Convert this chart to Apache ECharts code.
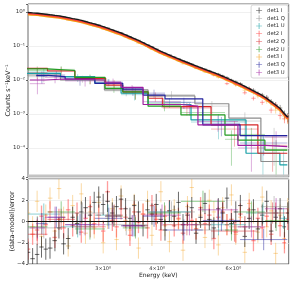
<!DOCTYPE html>
<html><head><meta charset="utf-8">
<script src="https://cdn.jsdelivr.net/npm/echarts@6/dist/echarts.min.js"></script>
<style>html,body{margin:0;padding:0;background:#fff}#c{width:292px;height:284px}</style>
</head><body><div id="c"></div>
<script>
// ---------------- data ----------------
const energies = [2.01,2.06,2.11,2.16,2.21,2.26,2.32,2.37,2.43,2.49,2.55,2.61,2.67,2.73,2.80,2.86,2.93,3.00,3.07,3.15,3.22,3.30,3.38,3.46,3.54,3.62,3.71,3.80,3.89,3.98,4.08,4.17,4.27,4.38,4.48,4.59,4.70,4.81,4.92,5.04,5.16,5.28,5.41,5.54,5.67,5.80,5.94,6.08,6.23,6.38,6.53,6.68,6.84,7.00,7.17,7.34,7.52,7.70,7.88,8.02];

const det1IModel = [0.966,0.940,0.918,0.891,0.859,0.828,0.794,0.769,0.724,0.681,0.641,0.605,0.566,0.525,0.480,0.446,0.409,0.371,0.335,0.299,0.270,0.241,0.212,0.187,0.165,0.146,0.126,0.108,0.0935,0.0807,0.0692,0.0617,0.0542,0.0472,0.0418,0.0368,0.0327,0.0290,0.0259,0.0230,0.0205,0.0184,0.0164,0.0146,0.0129,0.0113,0.00989,0.00865,0.00752,0.00646,0.00557,0.00482,0.00411,0.00350,0.00289,0.00231,0.00183,0.00145,0.00102,0.00080];
const det1I = [0.95,0.93,0.92,0.88,0.86,0.83,0.80,0.77,0.73,0.69,0.64,0.61,0.57,0.53,0.485,0.452,0.415,0.375,0.338,0.302,0.272,0.244,0.214,0.188,0.167,0.147,0.126,0.109,0.0945,0.0815,0.0695,0.0615,0.0548,0.0475,0.0424,0.0367,0.0330,0.0294,0.0256,0.0231,0.0209,0.0185,0.0162,0.0149,0.0131,0.0118,0.0099,0.0088,0.0078,0.0063,0.0056,0.0050,0.0040,0.0036,0.0031,0.0023,0.00185,0.00150,0.00100,0.00082];
const det2IModel = [0.90,0.875,0.855,0.83,0.80,0.77,0.74,0.715,0.675,0.635,0.597,0.563,0.527,0.489,0.447,0.415,0.381,0.345,0.312,0.278,0.251,0.224,0.197,0.174,0.153,0.136,0.117,0.100,0.087,0.075,0.0644,0.0574,0.0504,0.0439,0.0389,0.0342,0.0304,0.0270,0.0241,0.0214,0.0191,0.0171,0.0153,0.0136,0.0120,0.0105,0.0092,0.0080,0.0070,0.0060,0.0052,0.0045,0.0038,0.00326,0.00269,0.00215,0.00170,0.00135,0.00095,0.00074];
const det2I = [0.88,0.87,0.85,0.84,0.79,0.78,0.72,0.72,0.67,0.65,0.59,0.57,0.52,0.49,0.46,0.41,0.385,0.34,0.33,0.279,0.248,0.229,0.198,0.168,0.156,0.135,0.119,0.098,0.090,0.076,0.062,0.058,0.052,0.043,0.039,0.033,0.031,0.027,0.023,0.022,0.0188,0.0175,0.0138,0.0139,0.0124,0.0078,0.0093,0.0074,0.0073,0.0042,0.0056,0.0029,0.0039,0.0022,0.0028,0.0013,0.0018,0.0009,0.00072,0.00075];
const det3IModel = [0.84,0.82,0.80,0.775,0.745,0.72,0.69,0.668,0.63,0.592,0.557,0.526,0.492,0.457,0.418,0.388,0.356,0.323,0.291,0.260,0.235,0.210,0.184,0.163,0.144,0.127,0.110,0.094,0.0813,0.0702,0.0602,0.0537,0.0472,0.0411,0.0364,0.0320,0.0284,0.0252,0.0225,0.0200,0.0178,0.0160,0.0143,0.0127,0.0112,0.0098,0.0086,0.0075,0.0065,0.0056,0.00485,0.00419,0.00358,0.00305,0.00251,0.00201,0.00159,0.00126,0.00089,0.00070];
const det3I = [0.85,0.81,0.83,0.76,0.75,0.74,0.68,0.70,0.63,0.57,0.57,0.525,0.51,0.45,0.424,0.384,0.364,0.313,0.293,0.264,0.229,0.217,0.184,0.160,0.148,0.121,0.111,0.098,0.079,0.071,0.064,0.053,0.045,0.042,0.0365,0.030,0.0290,0.0273,0.0221,0.0202,0.0172,0.0168,0.0147,0.0119,0.0116,0.0097,0.0092,0.0072,0.0066,0.0050,0.0051,0.0043,0.0034,0.0033,0.0024,0.0021,0.0013,0.00131,0.00086,0.00072];
const iErrFrac = [0.010,0.010,0.011,0.011,0.012,0.012,0.013,0.013,0.014,0.014,0.015,0.015,0.016,0.017,0.017,0.018,0.019,0.020,0.021,0.022,0.023,0.024,0.025,0.027,0.028,0.030,0.032,0.034,0.036,0.038,0.040,0.042,0.045,0.048,0.050,0.053,0.056,0.060,0.063,0.067,0.071,0.075,0.080,0.085,0.090,0.095,0.10,0.11,0.115,0.12,0.13,0.14,0.15,0.16,0.17,0.19,0.21,0.23,0.26,0.30];

const det1IResid = [-2.9,-3.5,-3.1,-2.4,-2.6,-2.5,-1.8,-0.6,-2.1,-1.6,0.4,-0.2,0.9,1.3,0.6,1.8,2.3,1.6,1.9,0.8,1.4,2.1,1.2,0.3,1.5,0.9,-0.4,1.1,0.7,1.6,0.2,-0.8,1.0,0.5,1.8,-0.3,0.6,1.3,-1.1,0.4,1.7,0.2,-0.6,1.2,0.8,2.2,-0.2,0.9,1.5,-1.4,0.3,1.1,-0.7,0.6,1.9,-0.9,0.4,1.2,-0.5,0.8];
const det2IResid = [-2.6,-1.2,-0.8,0.5,-0.3,0.9,-1.5,0.2,-0.6,1.1,-0.4,0.8,-1.0,0.3,1.4,-0.2,0.6,-0.9,2.8,0.1,-0.5,1.2,0.4,-1.3,0.9,-0.1,0.7,-0.6,1.5,0.2,-0.8,0.5,1.0,-0.4,0.3,-1.1,0.8,0.1,-0.7,1.3,-0.2,0.6,-1.6,0.4,0.9,-0.3,0.2,-1.0,0.7,-0.5,1.1,-1.8,0.3,-0.6,0.5,-1.2,0.8,-0.4,-2.0,0.2];
const det3IResid = [0.8,-0.5,1.9,-1.4,0.6,2.2,-0.9,3.1,0.4,-2.3,1.5,-0.2,2.6,-1.1,0.9,-0.6,1.8,-2.0,0.3,1.2,-1.7,2.4,0.1,-0.8,1.6,-2.5,0.7,1.9,-1.3,0.5,2.8,-0.4,-1.9,1.1,0.2,-2.7,1.4,3.2,-0.7,0.6,-1.5,2.0,0.9,-2.2,1.3,-0.3,2.5,-1.2,0.4,-2.9,1.7,0.8,-1.0,2.3,-0.5,1.0,-3.0,0.6,-1.6,1.2];

const det1QEdges = [2.0,2.39,3.02,3.81,4.89,5.86,6.95,8.0];
const det1QModel = [0.0140,0.0100,0.0051,0.0034,0.0020,0.00076,0.00004];
const det1QData  = [0.0125,0.0108,0.0048,0.0037,0.0017,0.00062,0.00021];
const det1QErr   = [0.004,0.0025,0.0015,0.0010,0.0007,0.0005,0.00018];
const det1QResid = [-0.6,0.8,-0.3,0.9,-0.8,-0.5,1.4];

const det1UEdges = [2.0,2.39,2.87,3.30,3.81,4.79,6.42,7.69,8.0];
const det1UModel = [0.0157,0.0125,0.0080,0.0041,0.0019,0.00067,0.00007,0.000032];
const det1UData  = [0.0172,0.0118,0.0085,0.0037,0.0022,0.00058,0.00012,0.00004];
const det1UErr   = [0.005,0.003,0.002,0.0012,0.0007,0.0004,0.00012,0.00004];
const det1UResid = [0.7,-0.5,0.6,-0.4,0.9,-0.3,0.8,0.3];

const det2QEdges = [2.0,2.23,2.58,3.04,3.33,3.81,4.12,5.33,6.84,8.0];
const det2QModel = [0.0221,0.0184,0.0112,0.0071,0.0045,0.0029,0.00164,0.00048,0.00007];
const det2QData  = [0.0165,0.0190,0.0105,0.0078,0.0041,0.0033,0.0015,0.00036,0.00012];
const det2QErr   = [0.006,0.005,0.003,0.002,0.0014,0.001,0.0006,0.00025,0.0001];
const det2QResid = [-1.2,0.2,-0.5,0.6,-0.4,0.7,-0.3,-0.9,0.8];

const det2UEdges = [2.0,2.23,2.58,3.03,3.33,3.81,4.54,5.74,6.15,7.10,8.0];
const det2UModel = [0.0211,0.0190,0.0120,0.0057,0.0045,0.0017,0.00094,0.00024,0.00017,0.000087];
const det2UData  = [0.019,0.0205,0.0110,0.0062,0.0041,0.0020,0.0011,0.00018,0.00025,0.00009];
const det2UErr   = [0.006,0.005,0.0035,0.002,0.0015,0.0008,0.0005,0.00015,0.00014,0.00008];
const det2UResid = [-0.5,0.9,-0.7,0.5,-0.6,0.8,1.9,-0.8,0.9,0.1];

const det3QEdges = [2.10,2.23,2.45,2.87,3.33,3.71,4.17,5.10,6.22,8.0];
const det3QModel = [0.0136,0.0125,0.0107,0.0080,0.0054,0.0036,0.0028,0.00048,0.00023];
const det3QData  = [0.0128,0.0140,0.0098,0.0086,0.0049,0.0041,0.0022,0.00052,0.00014];
const det3QErr   = [0.005,0.004,0.003,0.002,0.0015,0.0011,0.0008,0.0003,0.00008];
const det3QResid = [-0.2,0.4,-0.3,0.3,-0.4,0.5,-0.8,0.1,-1.7];

const det3UEdges = [2.03,2.20,2.45,3.03,3.30,3.71,4.54,4.97,6.15,7.10,8.0];
const det3UModel = [0.0100,0.0107,0.0100,0.0082,0.0061,0.0019,0.0017,0.00048,0.00012,0.00011];
const det3UData  = [0.0078,0.0120,0.0094,0.0090,0.0056,0.0023,0.0015,0.00060,0.00010,0.00021];
const det3UErr   = [0.004,0.004,0.003,0.002,0.0015,0.0008,0.0006,0.0003,0.00008,0.0001];
const det3UResid = [-0.6,0.4,-0.3,0.5,-0.4,0.6,-0.3,1.1,-0.5,1.2];

const xTicks = [3,4,5,6,7];
const xTickLabels = [3,4,6];

// ---------------- styles ----------------
const COL = {
  'det1 I':'#1a1a1a','det1 Q':'#8c8c8c','det1 U':'#17a0a6',
  'det2 I':'#ff3b3b','det2 Q':'#d62728','det2 U':'#229a22',
  'det3 I':'#f39c12','det3 Q':'#23239e','det3 U':'#a01ea0'
};
const FONT = 'DejaVu Sans';
const XMIN = 2.01, XMAX = 8.06;

// ---------------- builders ----------------
const iLo = energies.map((e,i)=> i===0 ? e*Math.sqrt(e/energies[1]) : Math.sqrt(e*energies[i-1]));
const iHi = energies.map((e,i)=> i===energies.length-1 ? e*Math.sqrt(e/energies[i-1]) : Math.sqrt(e*energies[i+1]));
function iItems(vals){ return vals.map((v,i)=>[energies[i], v, iLo[i], iHi[i], v*(1-iErrFrac[i]), v*(1+iErrFrac[i])]); }
function iResItems(r){ return r.map((v,i)=>[energies[i], v, iLo[i], iHi[i], v-1, v+1]); }
function quItems(edges, data, err){ return data.map((v,i)=>{const lo=edges[i],hi=edges[i+1];return [Math.sqrt(lo*hi), v, lo, hi, Math.max(v-err[i],1e-6), v+err[i]];}); }
function quResItems(edges, r){ return r.map((v,i)=>{const lo=edges[i],hi=edges[i+1];return [Math.sqrt(lo*hi), v, lo, hi, v-1, v+1];}); }
function stepData(edges, model){ const d = model.map((m,i)=>[edges[i], m]); d.push([edges[edges.length-1], model[model.length-1]]); return d; }

function errSeries(name, items, grid, op, lw, z){
  const color = COL[name];
  return {
    type:'custom', name, xAxisIndex:grid, yAxisIndex:grid, clip:true, z:z||2,
    itemStyle:{color}, data:items, silent:true,
    renderItem:(params, api)=>{
      const x=api.value(0), y=api.value(1);
      const c = api.coord([x,y]);
      const xl = api.coord([api.value(2), y])[0], xr = api.coord([api.value(3), y])[0];
      const yl = api.coord([x, api.value(4)])[1], yh = api.coord([x, api.value(5)])[1];
      const st = {stroke:color, lineWidth:lw, opacity:op};
      return {type:'group', children:[
        {type:'line', shape:{x1:xl,y1:c[1],x2:xr,y2:c[1]}, style:st},
        {type:'line', shape:{x1:c[0],y1:yl,x2:c[0],y2:yh}, style:st}
      ]};
    }
  };
}
function stepSeries(name, edges, model, lw, z){
  return {type:'line', name:name+' model', xAxisIndex:0, yAxisIndex:0, step:'end', symbol:'none',
    data:stepData(edges, model), lineStyle:{color:COL[name], width:lw}, z:z||3, silent:true};
}
function lineSeries(name, model, lw, z){
  return {type:'line', name:name+' model', xAxisIndex:0, yAxisIndex:0, symbol:'none',
    data:model.map((m,i)=>[energies[i], m]), lineStyle:{color:COL[name], width:lw}, z:z||4, silent:true};
}

const sup = s => String(s).split('').map(ch=>({'0':'⁰','1':'¹','2':'²','3':'³','4':'⁴','5':'⁵','6':'⁶','7':'⁷','8':'⁸','9':'⁹','-':'⁻'}[ch])).join('');

const series = [
  errSeries('det1 I', iItems(det1I), 0, 0.55, 0.8, 2),
  errSeries('det1 Q', quItems(det1QEdges, det1QData, det1QErr), 0, 0.35, 1, 2),
  errSeries('det1 U', quItems(det1UEdges, det1UData, det1UErr), 0, 0.35, 1, 2),
  errSeries('det2 I', iItems(det2I), 0, 0.5, 0.9, 2),
  errSeries('det2 Q', quItems(det2QEdges, det2QData, det2QErr), 0, 0.35, 1, 2),
  errSeries('det2 U', quItems(det2UEdges, det2UData, det2UErr), 0, 0.35, 1, 2),
  errSeries('det3 I', iItems(det3I), 0, 0.45, 0.8, 2),
  errSeries('det3 Q', quItems(det3QEdges, det3QData, det3QErr), 0, 0.35, 1, 2),
  errSeries('det3 U', quItems(det3UEdges, det3UData, det3UErr), 0, 0.35, 1, 2),
  lineSeries('det3 I', det3IModel, 1.6, 4),
  lineSeries('det2 I', det2IModel, 1.4, 4),
  lineSeries('det1 I', det1IModel, 1.4, 5),
  stepSeries('det1 Q', det1QEdges, det1QModel, 1.2),
  stepSeries('det1 U', det1UEdges, det1UModel, 1.2),
  stepSeries('det2 Q', det2QEdges, det2QModel, 1.2),
  stepSeries('det2 U', det2UEdges, det2UModel, 1.2),
  stepSeries('det3 Q', det3QEdges, det3QModel, 1.2),
  stepSeries('det3 U', det3UEdges, det3UModel, 1.2),
  errSeries('det3 I', iResItems(det3IResid), 1, 0.38, 1, 2),
  errSeries('det2 I', iResItems(det2IResid), 1, 0.5, 1.3, 2),
  errSeries('det1 I', iResItems(det1IResid), 1, 0.65, 1, 3),
  errSeries('det1 Q', quResItems(det1QEdges, det1QResid), 1, 0.55, 0.9, 3),
  errSeries('det1 U', quResItems(det1UEdges, det1UResid), 1, 0.55, 0.9, 3),
  errSeries('det2 Q', quResItems(det2QEdges, det2QResid), 1, 0.55, 0.9, 3),
  errSeries('det2 U', quResItems(det2UEdges, det2UResid), 1, 0.55, 0.9, 3),
  errSeries('det3 Q', quResItems(det3QEdges, det3QResid), 1, 0.55, 0.9, 3),
  errSeries('det3 U', quResItems(det3UEdges, det3UResid), 1, 0.55, 0.9, 3),
  {type:'line', name:'zero', xAxisIndex:1, yAxisIndex:1, symbol:'none', silent:true, z:6,
   data:[[XMIN,0],[XMAX,0]], lineStyle:{color:'#111', width:1}}
];

const legendNames = ['det1 I','det1 Q','det1 U','det2 I','det2 Q','det2 U','det3 I','det3 Q','det3 U'];
const plus = 'path://M0,4.4H10V5.6H0Z M4.4,0H5.6V10H4.4Z';

const chart = echarts.init(document.getElementById('c'), null, {renderer:'canvas'});
chart.setOption({
  animation:false,
  backgroundColor:'#fff',
  grid:[
    {left:28, right:3.3, top:4, height:173, show:true, borderColor:'#444', borderWidth:0.8, outerBoundsMode:'none'},
    {left:28, right:3.3, top:179, height:85, show:true, borderColor:'#444', borderWidth:0.8, outerBoundsMode:'none'}
  ],
  xAxis:[
    {type:'log', gridIndex:0, min:XMIN, max:XMAX, axisLine:{show:false}, axisTick:{show:false}, axisLabel:{show:false}, splitLine:{show:false}},
    {type:'log', gridIndex:1, min:XMIN, max:XMAX, axisLine:{show:false},
     axisTick:{show:true, length:2, customValues:xTicks, lineStyle:{color:'#444', width:0.8}},
     axisLabel:{show:true, customValues:xTickLabels, fontSize:5, color:'#333', fontFamily:FONT, margin:2.5, formatter:v=>Math.round(v)+'×10⁰'},
     splitLine:{show:false},
     name:'Energy (keV)', nameLocation:'middle', nameGap:8, nameMoveOverlap:false, nameTextStyle:{fontSize:6, color:'#222', fontFamily:FONT}}
  ],
  yAxis:[
    {type:'log', gridIndex:0, min:1.4e-5, max:1.72, splitNumber:5, axisLine:{show:false},
     axisTick:{show:true, length:2, lineStyle:{color:'#444', width:0.8}},
     axisLabel:{fontSize:5.5, color:'#333', fontFamily:FONT, margin:3,
       formatter:v=>{const L=Math.log10(v); if(Math.abs(L-Math.round(L))>1e-6) return ''; return '10'+sup(Math.round(L));}},
     splitLine:{show:true, lineStyle:{color:'#ececec', width:0.8}},
     name:'Counts s⁻¹keV⁻¹', nameLocation:'middle', nameGap:16.5, nameRotate:90, nameMoveOverlap:false, nameTextStyle:{fontSize:6.5, color:'#222', fontFamily:FONT}},
    {type:'value', gridIndex:1, min:-4, max:4, interval:2, axisLine:{show:false},
     axisTick:{show:true, length:2, lineStyle:{color:'#444', width:0.8}},
     axisLabel:{fontSize:5.5, color:'#333', fontFamily:FONT, margin:3, formatter:v=> v<0 ? '−'+Math.abs(v) : String(v)},
     splitLine:{show:true, lineStyle:{color:'#ececec', width:0.8}},
     name:'(data-model)/error', nameLocation:'middle', nameGap:12, nameRotate:90, nameMoveOverlap:false, nameTextStyle:{fontSize:6.5, color:'#222', fontFamily:FONT}}
  ],
  legend:{
    orient:'vertical', right:4, top:5, selectedMode:false,
    data:legendNames.map(n=>({name:n, icon:plus, itemStyle:{color:COL[n], opacity:0.8}})),
    itemWidth:6, itemHeight:6, itemGap:1.75,
    textStyle:{fontSize:5.3, color:'#333', fontFamily:FONT, width:24},
    padding:[2.5,3,2.5,5], backgroundColor:'rgba(255,255,255,0.85)', borderColor:'#cccccc', borderWidth:0.8, borderRadius:2
  },
  graphic:[{type:'rect', shape:{x:28, y:174.4, width:260.7, height:2.4}, style:{fill:'#c4c4c4'}, z:100}],
  series
});
</script></body></html>
